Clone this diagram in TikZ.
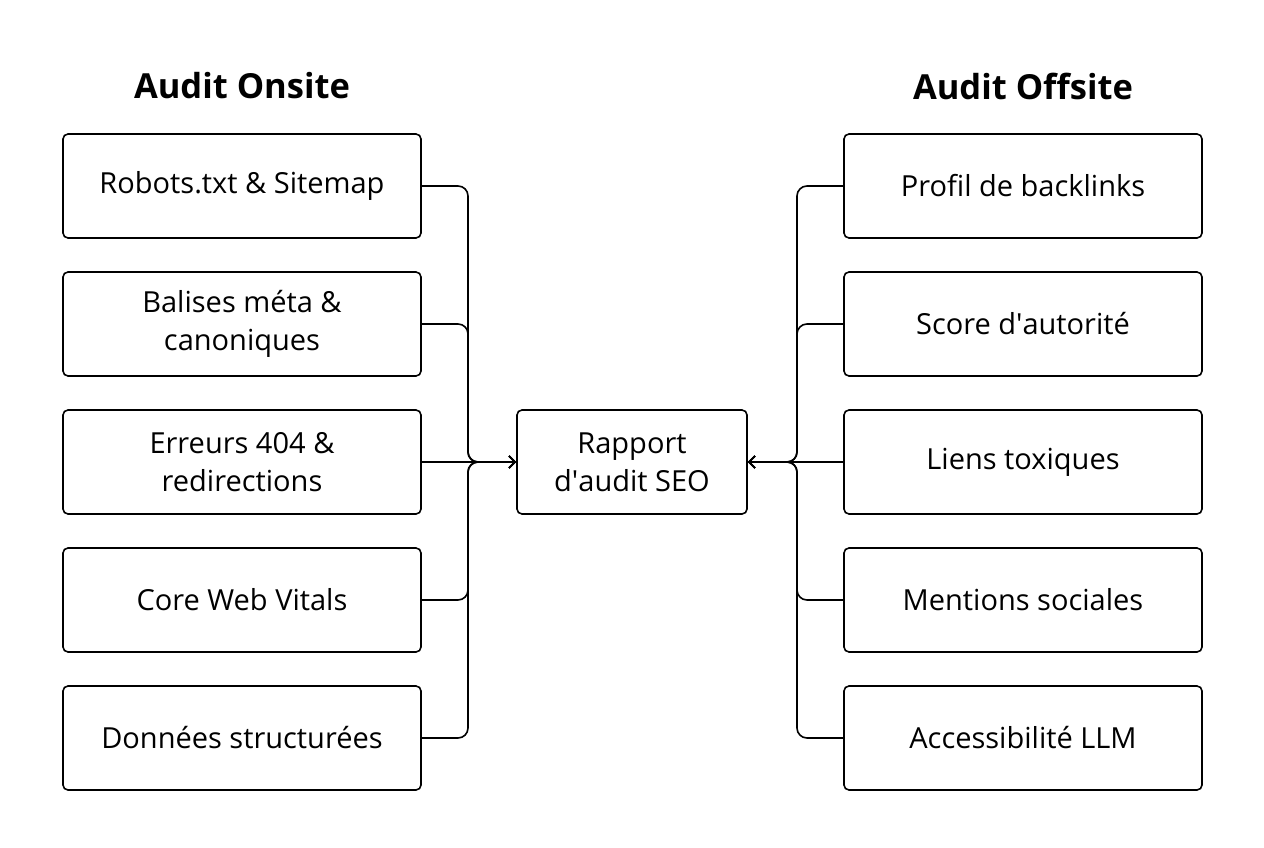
\documentclass[tikz,border=0pt]{standalone}
\usepackage{fontspec}
\setmainfont{Open Sans}
\usetikzlibrary{arrows.meta,positioning}
\begin{document}
\begin{tikzpicture}[x=1pt,y=-1pt,
		item/.style={draw=black,line width=1.6pt,rounded corners=5pt,minimum width=358pt,minimum height=104pt,align=center,font=\fontsize{29}{38}\selectfont},
		hub/.style={item,minimum width=230pt},
		title/.style={font=\fontsize{34.5}{40}\selectfont\bfseries},
		link/.style={line width=1.6pt,rounded corners=10pt},
		tip/.style={-{Straight Barb[length=6pt,width=12pt]}}]
	\useasboundingbox (0,0) rectangle (1264,848);

	\node[title] (onsite) at (242,86) {Audit Onsite};
	\node[title] (offsite) at (1023,86) {Audit Offsite};

	\node[hub] (report) at (632,462) {Rapport\\d\textquotesingle audit SEO};
	\coordinate (busL) at (468,462);
	\coordinate (busR) at (797,462);

	\node[item] (l1) at (242,186) {Robots.txt \& Sitemap};
	\node[item] (l2) [below=32.4pt of l1] {Balises méta \&\\canoniques};
	\node[item] (l3) [below=32.4pt of l2] {Erreurs 404 \&\\redirections};
	\node[item] (l4) [below=32.4pt of l3] {Core Web Vitals};
	\node[item] (l5) [below=32.4pt of l4] {Données structurées};

	\node[item] (r1) at (1023,186) {Profil de backlinks};
	\node[item] (r2) [below=32.4pt of r1] {Score d\textquotesingle autorité};
	\node[item] (r3) [below=32.4pt of r2] {Liens toxiques};
	\node[item] (r4) [below=32.4pt of r3] {Mentions sociales};
	\node[item] (r5) [below=32.4pt of r4] {Accessibilité LLM};

	% left side into the report
	\foreach \n in {l1,l2,l4,l5}
		\draw[link,tip] (\n.east) -| (busL) -- (report.west);
	\draw[link,tip] (l3.east) -- (report.west);
	% right side into the report
	\foreach \n in {r1,r2,r4,r5}
		\draw[link,tip] (\n.west) -| (busR) -- (report.east);
	\draw[link,tip] (r3.west) -- (report.east);
\end{tikzpicture}
\end{document}
